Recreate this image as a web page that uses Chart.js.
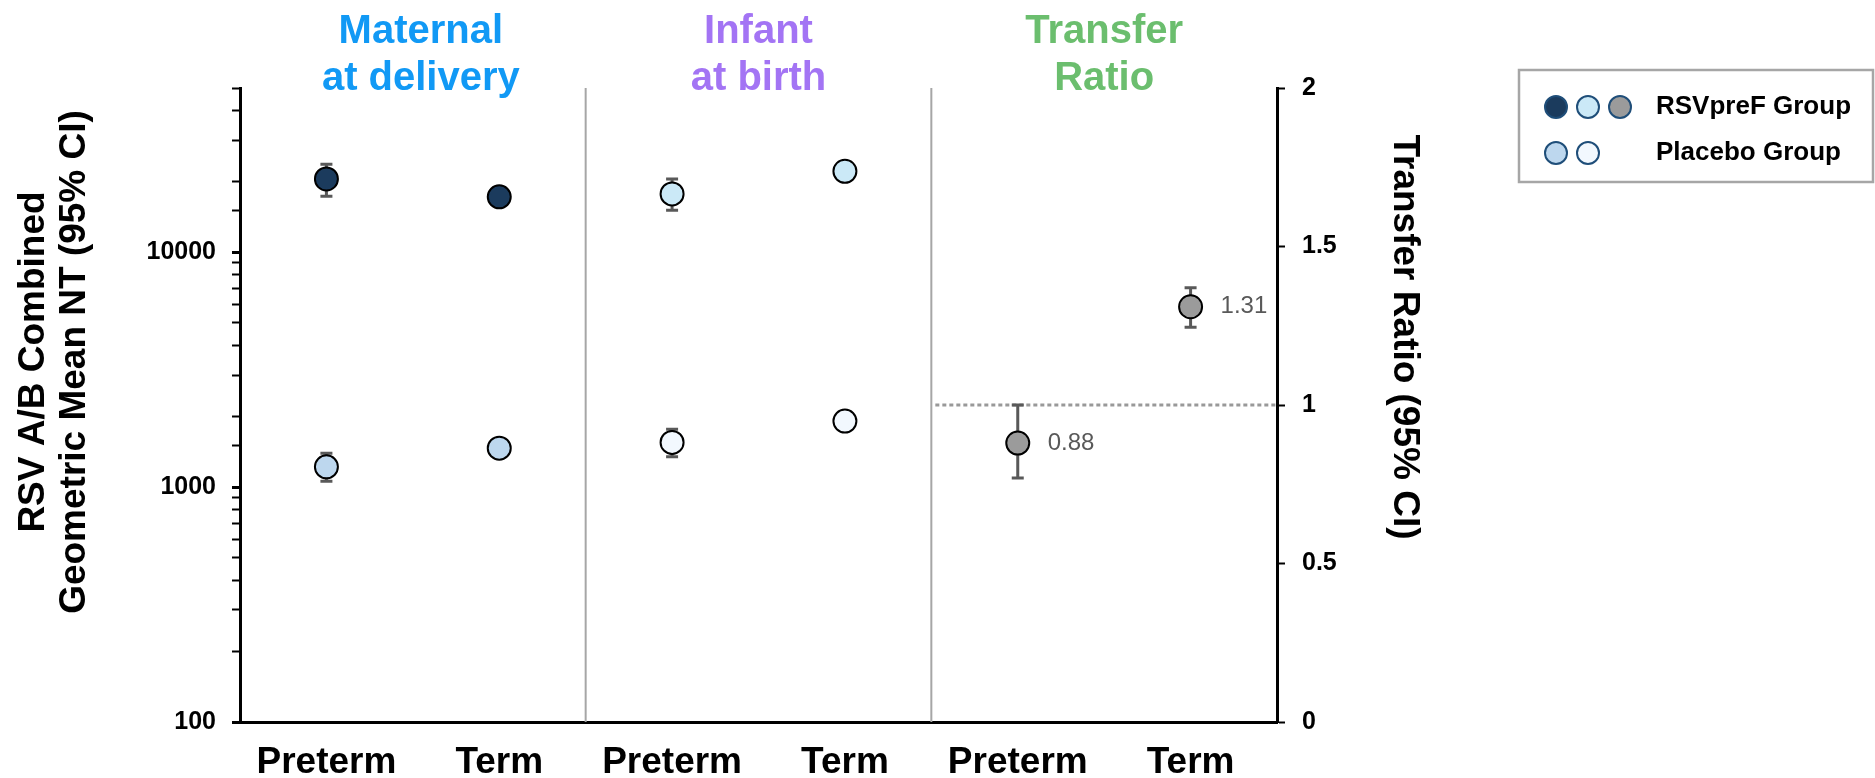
<!DOCTYPE html>
<html>
<head>
<meta charset="utf-8">
<script src="https://cdn.jsdelivr.net/npm/chart.js@4.4.1/dist/chart.umd.min.js"></script>
<style>
  body { margin: 0; background: #fff; }
  canvas { display: block; }
</style>
</head>
<body>
<canvas id="myChart" width="1875" height="778"></canvas>
<script>
const groups = ['Preterm', 'Term', 'Preterm', 'Term', 'Preterm', 'Term'];
const panelTitles = [['Maternal', 'at delivery'], ['Infant', 'at birth'], ['Transfer', 'Ratio']];

// GMT (95% CI), left log axis
const maternalVaccine = [20500, 17200, null, null, null, null];
const maternalVaccineLow = [17300, null, null, null, null, null];
const maternalVaccineHigh = [23700, null, null, null, null, null];
const maternalPlacebo = [1220, 1465, null, null, null, null];
const maternalPlaceboLow = [1060, null, null, null, null, null];
const maternalPlaceboHigh = [1395, null, null, null, null, null];
const infantVaccine = [null, null, 17700, 22100, null, null];
const infantVaccineLow = [null, null, 15100, null, null, null];
const infantVaccineHigh = [null, null, 20500, null, null, null];
const infantPlacebo = [null, null, 1550, 1910, null, null];
const infantPlaceboLow = [null, null, 1345, null, null, null];
const infantPlaceboHigh = [null, null, 1765, null, null, null];

// transfer ratio (95% CI), right axis
const transferRatio = [null, null, null, null, 0.88, 1.31];
const transferLow = [null, null, null, null, 0.77, 1.245];
const transferHigh = [null, null, null, null, 1.00, 1.37];

const logLabels = [100, 1000, 10000];
const referenceRatio = 1;

const navy = '#1b3b5d';
const paleBlue = '#bdd7ee';
const paleCyan = '#cbe9f7';
const nearWhite = '#f2f8fe';
const gray = '#9b9b9b';
const titleColors = ['#1199f5', '#a374f4', '#6bbe6e'];
const legendRows = [
    { label: 'RSVpreF Group', colors: [navy, paleCyan, gray] },
    { label: 'Placebo Group', colors: [paleBlue, nearWhite] }
];

const FONT = "'Liberation Sans', Arial, sans-serif";
const ctx = document.getElementById('myChart').getContext('2d');

function serie(data, low, high, color, axis) {
    return {
        data: data, low: low, high: high, yAxisID: axis,
        showLine: false,
        backgroundColor: color,
        borderColor: '#000',
        pointBackgroundColor: color,
        pointBorderColor: '#000',
        pointBorderWidth: 2,
        pointRadius: 11.5,
        pointHoverRadius: 11.5
    };
}

const decorations = {
    id: 'decorations',
    beforeDatasetsDraw(chart) {
        const c = chart.ctx;
        const x = chart.scales.x;
        const y2 = chart.scales.y2;
        const area = chart.chartArea;
        c.save();
        // panel dividers
        c.strokeStyle = '#a6a6a6';
        c.lineWidth = 2;
        [1, 3].forEach(i => {
            const px = (x.getPixelForValue(i) + x.getPixelForValue(i + 1)) / 2;
            c.beginPath();
            c.moveTo(px, area.top);
            c.lineTo(px, area.bottom);
            c.stroke();
        });
        // reference line at ratio 1
        const start = (x.getPixelForValue(3) + x.getPixelForValue(4)) / 2 + 4;
        const yRef = y2.getPixelForValue(referenceRatio);
        c.setLineDash([4, 3]);
        c.lineWidth = 3;
        c.strokeStyle = '#999999';
        c.beginPath();
        c.moveTo(start, yRef);
        c.lineTo(area.right, yRef);
        c.stroke();
        c.setLineDash([]);
        // error bars
        c.strokeStyle = '#595959';
        c.lineWidth = 3;
        chart.data.datasets.forEach((ds, i) => {
            const meta = chart.getDatasetMeta(i);
            const ys = chart.scales[ds.yAxisID];
            ds.data.forEach((v, j) => {
                if (ds.low[j] == null) return;
                const px = meta.data[j].x;
                const lo = ys.getPixelForValue(ds.low[j]);
                const hi = ys.getPixelForValue(ds.high[j]);
                c.beginPath();
                c.moveTo(px, lo); c.lineTo(px, hi);
                c.moveTo(px - 6, lo); c.lineTo(px + 6, lo);
                c.moveTo(px - 6, hi); c.lineTo(px + 6, hi);
                c.stroke();
            });
        });
        c.restore();
    },
    afterDraw(chart) {
        const c = chart.ctx;
        const x = chart.scales.x;
        const y2 = chart.scales.y2;
        c.save();
        // panel titles
        c.textAlign = 'center';
        c.textBaseline = 'alphabetic';
        c.font = 'bold 40px ' + FONT;
        panelTitles.forEach((lines, k) => {
            const cx = (x.getPixelForValue(2 * k) + x.getPixelForValue(2 * k + 1)) / 2 + (k === 0 ? 8 : 0);
            c.fillStyle = titleColors[k];
            c.fillText(lines[0], cx, 43);
            c.fillText(lines[1], cx, 90);
        });
        // ratio value labels
        c.font = '24px ' + FONT;
        c.fillStyle = '#595959';
        c.textAlign = 'left';
        c.textBaseline = 'middle';
        transferRatio.forEach((v, j) => {
            if (v == null) return;
            c.fillText(v.toFixed(2), x.getPixelForValue(j) + 30, y2.getPixelForValue(v));
        });
        // axis titles
        c.fillStyle = '#000';
        c.font = 'bold 37px ' + FONT;
        c.textAlign = 'center';
        [['RSV A/B Combined', 34], ['Geometric Mean NT (95% CI)', 75]].forEach(([t, px]) => {
            c.save();
            c.translate(px, 362);
            c.rotate(-Math.PI / 2);
            c.fillText(t, 0, 0);
            c.restore();
        });
        c.save();
        c.translate(1404, 337);
        c.rotate(Math.PI / 2);
        c.fillText('Transfer Ratio (95% CI)', 0, 0);
        c.restore();
        // legend
        c.strokeStyle = '#a6a6a6';
        c.lineWidth = 2.5;
        c.strokeRect(1519, 70, 354, 112);
        legendRows.forEach((row, r) => {
            const cy = 107 + r * 46;
            row.colors.forEach((col, m) => {
                c.beginPath();
                c.arc(1556 + m * 32, cy, 11, 0, Math.PI * 2);
                c.fillStyle = col;
                c.fill();
                c.lineWidth = 2;
                c.strokeStyle = '#1f4e79';
                c.stroke();
            });
            c.fillStyle = '#000';
            c.font = 'bold 26px ' + FONT;
            c.textAlign = 'left';
            c.fillText(row.label, 1656, cy);
        });
        c.restore();
    }
};

const chart = new Chart(ctx, {
    type: 'line',
    data: {
        labels: groups,
        datasets: [
            serie(maternalVaccine, maternalVaccineLow, maternalVaccineHigh, navy, 'y'),
            serie(maternalPlacebo, maternalPlaceboLow, maternalPlaceboHigh, paleBlue, 'y'),
            serie(infantVaccine, infantVaccineLow, infantVaccineHigh, paleCyan, 'y'),
            serie(infantPlacebo, infantPlaceboLow, infantPlaceboHigh, nearWhite, 'y'),
            serie(transferRatio, transferLow, transferHigh, gray, 'y2')
        ]
    },
    options: {
        responsive: false,
        animation: false,
        layout: { padding: { top: 88, left: 0, right: 0, bottom: 0 } },
        plugins: {
            legend: { display: false },
            tooltip: { enabled: false }
        },
        scales: {
            x: {
                type: 'category',
                offset: true,
                afterFit: s => { s.height = 56; },
                border: { color: '#000', width: 3 },
                grid: { drawOnChartArea: false, drawTicks: false },
                ticks: {
                    padding: 19,
                    color: '#000',
                    autoSkip: false,
                    maxRotation: 0,
                    font: { family: FONT, size: 37, weight: 'bold' }
                }
            },
            y: {
                type: 'logarithmic',
                position: 'left',
                min: 100,
                max: 50000,
                afterFit: s => { s.width = 240; },
                border: { color: '#000', width: 3 },
                grid: {
                    drawOnChartArea: false,
                    tickLength: 8,
                    tickColor: '#000',
                    tickWidth: c => (c.tick && logLabels.includes(c.tick.value)) ? 3 : 2
                },
                ticks: {
                    autoSkip: false,
                    padding: 16,
                    color: '#000',
                    font: { family: FONT, size: 25, weight: 'bold' },
                    callback: v => logLabels.includes(v) ? String(v) : ''
                }
            },
            y2: {
                type: 'linear',
                position: 'right',
                min: 0,
                max: 2,
                afterFit: s => { s.width = 598; },
                border: { color: '#000', width: 3 },
                grid: { drawOnChartArea: false, tickLength: 8, tickColor: '#000', tickWidth: 2 },
                ticks: {
                    stepSize: 0.5,
                    padding: 17,
                    color: '#000',
                    font: { family: FONT, size: 25, weight: 'bold' },
                    callback: v => String(v)
                }
            }
        }
    },
    plugins: [decorations]
});
</script>
</body>
</html>
